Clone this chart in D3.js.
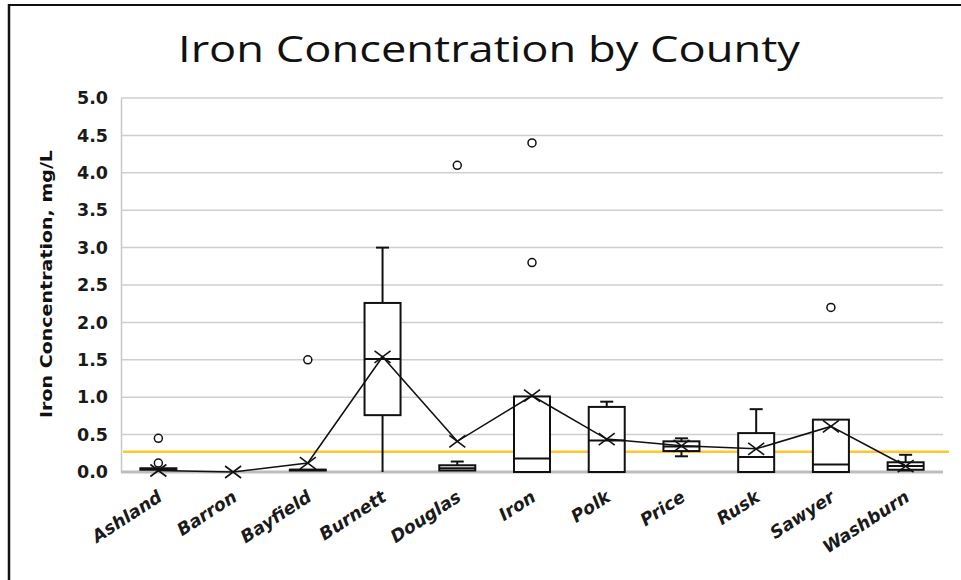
<!DOCTYPE html>
<html>
<head>
<meta charset="utf-8">
<script src="https://cdn.jsdelivr.net/npm/d3@7"></script>
<style>
  html, body { margin: 0; padding: 0; background: #fff; }
  svg { display: block; }
</style>
</head>
<body>
<svg id="chart" width="961" height="580"></svg>
<script>
// ---- Data ----
const counties = ["Ashland","Barron","Bayfield","Burnett","Douglas","Iron","Polk","Price","Rusk","Sawyer","Washburn"];
const whiskerLow  = [0.03, null, 0.02, 0.00, 0.02, 0.00, 0.00, 0.21, 0.00, 0.00, 0.02];
const q1          = [0.03, null, 0.02, 0.76, 0.02, 0.00, 0.00, 0.28, 0.00, 0.00, 0.03];
const medians     = [0.04, null, 0.03, 1.51, 0.05, 0.18, 0.42, 0.34, 0.20, 0.10, 0.08];
const q3          = [0.05, null, 0.03, 2.26, 0.09, 1.01, 0.87, 0.41, 0.52, 0.70, 0.13];
const whiskerHigh = [0.05, null, 0.03, 3.00, 0.14, 1.01, 0.94, 0.45, 0.84, 0.70, 0.23];
const means       = [0.02, 0.00, 0.12, 1.54, 0.41, 1.02, 0.44, 0.35, 0.31, 0.61, 0.08];
const outlierCounty = ["Ashland","Ashland","Bayfield","Douglas","Iron","Iron","Sawyer"];
const outlierValue  = [0.45, 0.12, 1.50, 4.10, 4.40, 2.80, 2.20];
const limitValue = 0.27;
const yTicks = [0,0.5,1.0,1.5,2.0,2.5,3.0,3.5,4.0,4.5,5.0];
const titleText = "Iron Concentration by County";
const yTitleText = "Iron Concentration, mg/L";

// ---- Layout ----
const svg = d3.select("#chart");
const L = 121, R = 943, T = 98, B = 472;

const x = d3.scaleBand().domain(counties).range([L, R]).paddingInner(0).paddingOuter(0);
const y = d3.scaleLinear().domain([0, 5]).range([B, T]);
const cx = c => x(c) + x.bandwidth() / 2;
const boxW = 36, capW = 13;

// outer border (left & top)
svg.append("line").attr("x1", 9).attr("y1", 5).attr("x2", 961).attr("y2", 5)
  .attr("stroke", "#111").attr("stroke-width", 2);
svg.append("line").attr("x1", 9).attr("y1", 4).attr("x2", 9).attr("y2", 580)
  .attr("stroke", "#111").attr("stroke-width", 2.5);

// title
svg.append("text").attr("x", 489).attr("y", 62).attr("text-anchor", "middle")
  .attr("font-family", "'Open Sans', sans-serif").attr("font-size", 37).attr("font-weight", 400)
  .attr("fill", "#111").attr("textLength", 622).attr("lengthAdjust", "spacingAndGlyphs")
  .text(titleText);

// gridlines
svg.append("g").selectAll("line").data(yTicks.filter(d => d > 0)).join("line")
  .attr("x1", L).attr("x2", R).attr("y1", d => y(d)).attr("y2", d => y(d))
  .attr("stroke", "#cfcfcf").attr("stroke-width", 1.5);

// y axis
const yAxis = d3.axisLeft(y).tickValues(yTicks).tickFormat(d3.format(".1f")).tickSize(0).tickPadding(13);
const gy = svg.append("g").attr("transform", `translate(${L},0)`).call(yAxis);
gy.select(".domain").attr("stroke", "#c8c8c8").attr("stroke-width", 1.5);
gy.selectAll("text").attr("font-family", "'DejaVu Sans', sans-serif").attr("font-weight", "bold")
  .attr("font-size", 17.5).attr("fill", "#1a1a1a");

// y title
svg.append("text").attr("transform", `translate(52,284) rotate(-90)`).attr("text-anchor", "middle")
  .attr("font-family", "'DejaVu Sans', sans-serif").attr("font-weight", "bold").attr("font-size", 16.5)
  .attr("fill", "#111").attr("textLength", 268).attr("lengthAdjust", "spacingAndGlyphs")
  .text(yTitleText);

// x axis
const xAxis = d3.axisBottom(x).tickSize(0).tickPadding(0);
const gx = svg.append("g").attr("transform", `translate(0,${B})`).call(xAxis);
gx.select(".domain").remove();
gx.selectAll("text")
  .attr("font-family", "'DejaVu Sans', sans-serif").attr("font-weight", "bold").attr("font-style", "italic")
  .attr("font-size", 17.5).attr("fill", "#1a1a1a")
  .attr("text-anchor", "end").attr("dy", 0).attr("y", 0).attr("x", 0)
  .attr("transform", "translate(5,28) rotate(-33)");

// limit line
svg.append("line").attr("x1", L + 2).attr("x2", 949).attr("y1", y(limitValue)).attr("y2", y(limitValue))
  .attr("stroke", "#ffc72c").attr("stroke-width", 2.5);

// x axis baseline
svg.append("line").attr("x1", L).attr("x2", R).attr("y1", B).attr("y2", B)
  .attr("stroke", "#bdbdbd").attr("stroke-width", 3);

// boxes
const boxes = counties.map((c, i) => ({c, lo: whiskerLow[i], q1: q1[i], med: medians[i], q3: q3[i], hi: whiskerHigh[i]}))
  .filter(d => d.q1 !== null);
const gb = svg.append("g").attr("stroke", "#111").attr("stroke-width", 2).attr("fill", "none");
boxes.forEach(d => {
  const xc = cx(d.c);
  // whiskers
  if (d.hi > d.q3) {
    gb.append("line").attr("x1", xc).attr("x2", xc).attr("y1", y(d.q3)).attr("y2", y(d.hi));
    gb.append("line").attr("x1", xc - capW/2).attr("x2", xc + capW/2).attr("y1", y(d.hi)).attr("y2", y(d.hi));
  }
  if (d.lo < d.q1) {
    gb.append("line").attr("x1", xc).attr("x2", xc).attr("y1", y(d.q1)).attr("y2", y(d.lo));
    if (d.lo > 0) gb.append("line").attr("x1", xc - capW/2).attr("x2", xc + capW/2).attr("y1", y(d.lo)).attr("y2", y(d.lo));
  }
  gb.append("rect").attr("x", xc - boxW/2).attr("width", boxW)
    .attr("y", y(d.q3)).attr("height", Math.max(0.5, y(d.q1) - y(d.q3))).attr("fill", "#fff");
  gb.append("line").attr("x1", xc - boxW/2).attr("x2", xc + boxW/2).attr("y1", y(d.med)).attr("y2", y(d.med));
});

// mean line
svg.append("path").datum(counties.map((c, i) => [cx(c), y(means[i])]))
  .attr("d", d3.line()).attr("fill", "none").attr("stroke", "#111").attr("stroke-width", 1.6);

// mean markers (X)
const gm = svg.append("g").attr("stroke", "#111").attr("stroke-width", 1.6);
counties.forEach((c, i) => {
  const px = cx(c), py = y(means[i]), hw = 8, hh = 6;
  gm.append("line").attr("x1", px - hw).attr("y1", py - hh).attr("x2", px + hw).attr("y2", py + hh);
  gm.append("line").attr("x1", px - hw).attr("y1", py + hh).attr("x2", px + hw).attr("y2", py - hh);
});

// outliers
svg.append("g").selectAll("circle").data(outlierCounty.map((c, i) => ({c, v: outlierValue[i]}))).join("circle")
  .attr("cx", d => cx(d.c)).attr("cy", d => y(d.v)).attr("r", 4)
  .attr("fill", "#fff").attr("stroke", "#111").attr("stroke-width", 1.5);
</script>
</body>
</html>
